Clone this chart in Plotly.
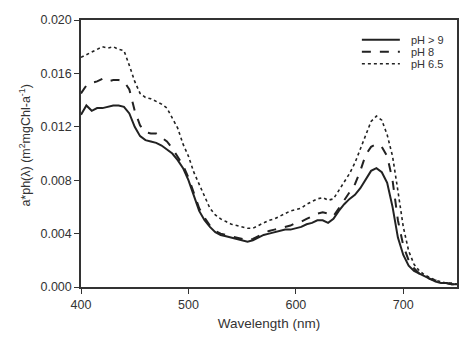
import plotly.graph_objects as go

wavelength = list(range(400, 751, 5))

ph_gt9 = [0.0129, 0.0136, 0.0132, 0.0134, 0.0134, 0.0135, 0.0136, 0.0136, 0.0135, 0.0130,
          0.0120, 0.0113, 0.0110, 0.0109, 0.0108, 0.0106, 0.0103, 0.0100, 0.0095, 0.0089,
          0.0080, 0.0068, 0.0057, 0.0050, 0.0045, 0.0041, 0.0039, 0.0038, 0.0037, 0.0036,
          0.0035, 0.0034, 0.0035, 0.0037, 0.0039, 0.0040, 0.0041, 0.0042, 0.0043, 0.0043,
          0.0044, 0.0045, 0.0047, 0.0048, 0.0050, 0.0050, 0.0048, 0.0051, 0.0057, 0.0062,
          0.0066, 0.0069, 0.0074, 0.0081, 0.0087, 0.0089, 0.0086, 0.0078, 0.0060, 0.0037,
          0.0024, 0.0016, 0.0012, 0.0010, 0.0008, 0.0006, 0.0004, 0.0003, 0.0003, 0.0002,
          0.0002]

ph_8 = [0.0145, 0.0151, 0.0153, 0.0154, 0.0156, 0.0154, 0.0155, 0.0155, 0.0154, 0.0148,
        0.0132, 0.0121, 0.0116, 0.0115, 0.0115, 0.0112, 0.0109, 0.0104, 0.0098, 0.0091,
        0.0082, 0.0070, 0.0059, 0.0052, 0.0046, 0.0042, 0.0040, 0.0039, 0.0038, 0.0037,
        0.0036, 0.0035, 0.0036, 0.0038, 0.0040, 0.0042, 0.0043, 0.0044, 0.0045, 0.0046,
        0.0048, 0.0049, 0.0051, 0.0053, 0.0055, 0.0056, 0.0055, 0.0053, 0.0059, 0.0065,
        0.0070, 0.0077, 0.0087, 0.0099, 0.0105, 0.0107, 0.0105, 0.0098, 0.0080, 0.0050,
        0.0031, 0.0020, 0.0014, 0.0010, 0.0008, 0.0006, 0.0005, 0.0003, 0.0003, 0.0002,
        0.0002]

ph_65 = [0.0172, 0.0174, 0.0176, 0.0178, 0.0180, 0.0179, 0.0180, 0.0178, 0.0177, 0.0166,
         0.0154, 0.0145, 0.0142, 0.0141, 0.0139, 0.0137, 0.0134, 0.0127, 0.0119, 0.0107,
         0.0098, 0.0086, 0.0077, 0.0067, 0.0059, 0.0054, 0.0051, 0.0049, 0.0047, 0.0046,
         0.0045, 0.0044, 0.0044, 0.0046, 0.0048, 0.0050, 0.0051, 0.0053, 0.0055, 0.0057,
         0.0058, 0.0059, 0.0062, 0.0064, 0.0066, 0.0067, 0.0065, 0.0066, 0.0072, 0.0079,
         0.0085, 0.0093, 0.0103, 0.0114, 0.0124, 0.0128, 0.0125, 0.0114, 0.0098, 0.0072,
         0.0045, 0.0027, 0.0017, 0.0012, 0.0009, 0.0007, 0.0005, 0.0004, 0.0003, 0.0003,
         0.0002]

series_names = ["pH > 9", "pH 8", "pH 6.5"]
series_values = [ph_gt9, ph_8, ph_65]
series_dash = ["solid", "dash", "dot"]
series_width = [2.0, 2.0, 1.6]

LINE = "#222222"
TXT = "#333333"

fig = go.Figure()
for name, vals, dash, w in zip(series_names, series_values, series_dash, series_width):
    fig.add_trace(go.Scatter(x=wavelength, y=vals, mode="lines", name=name,
                             showlegend=False,
                             line=dict(color=LINE, width=w, dash=dash)))

# compact legend drawn in paper coordinates (key lines + labels)
leg_y = [0.926, 0.881, 0.836]
for name, dash, w, yy in zip(series_names, series_dash, series_width, leg_y):
    fig.add_shape(type="line", xref="paper", yref="paper", x0=0.747, x1=0.848, y0=yy, y1=yy,
                  line=dict(color=LINE, width=w, dash=dash))
    fig.add_annotation(xref="paper", yref="paper", x=0.872, y=yy, text=name, showarrow=False,
                       xanchor="left", yanchor="middle", font=dict(size=11, color=TXT))

axis_common = dict(showline=True, linecolor=TXT, linewidth=1.5, mirror=True,
                   ticks="outside", ticklen=5, tickcolor=TXT, showgrid=False,
                   zeroline=False, tickfont=dict(size=12.5, color=TXT))

fig.update_xaxes(range=[400, 750], tickvals=[400, 500, 600, 700],
                 title=dict(text="Wavelength (nm)", font=dict(size=13.5, color=TXT), standoff=8),
                 **axis_common)
fig.update_yaxes(range=[0, 0.020], tickvals=[0, 0.004, 0.008, 0.012, 0.016, 0.020],
                 tickformat=".3f", **axis_common)

# y-axis title placed as rotated annotation (slightly above axis centre, as in reference)
fig.add_annotation(xref="paper", yref="paper", x=-0.15, y=0.528,
                   text="a*ph(λ) (m<sup>2</sup>mgChl-a<sup>-1</sup>)", textangle=-90,
                   showarrow=False, xanchor="center", yanchor="middle",
                   font=dict(size=12.5, color=TXT))

fig.update_layout(
    width=476, height=341,
    margin=dict(l=81, r=19, t=20, b=52),
    paper_bgcolor="white", plot_bgcolor="white",
    font=dict(family="Liberation Sans, Arial, sans-serif", color=TXT),
    showlegend=False,
)

fig.write_html("out.html")
